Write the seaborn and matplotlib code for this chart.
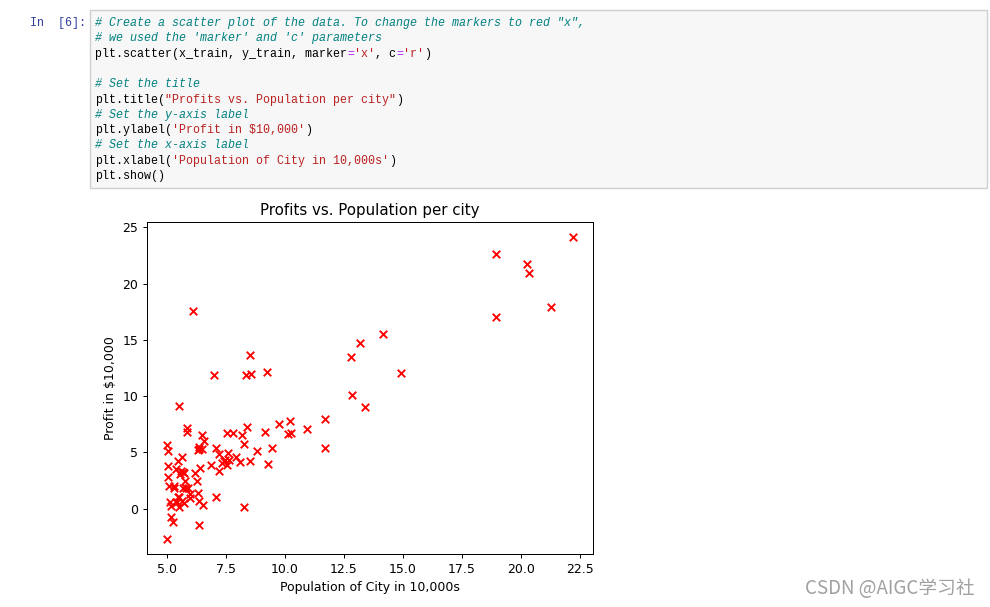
import matplotlib
matplotlib.use("Agg")
import matplotlib.pyplot as plt
from matplotlib.patches import Rectangle
import seaborn as sns
import pandas as pd

population = [6.1101, 5.5277, 8.5186, 7.0032, 5.8598, 8.3829, 7.4764, 8.5781, 6.4862, 5.0546,
              5.7107, 14.164, 5.734, 8.4084, 5.6407, 5.3794, 6.3654, 5.1301, 6.4296, 7.0708,
              6.1891, 20.27, 5.4901, 6.3261, 5.5649, 18.945, 12.828, 10.957, 13.176, 22.203,
              5.2524, 6.5894, 9.2482, 5.8918, 8.2111, 7.9334, 8.0959, 5.6063, 12.836, 6.3534,
              5.4069, 6.8825, 11.708, 5.7737, 7.8247, 7.0931, 5.0702, 5.8014, 11.7, 5.5416,
              7.5402, 5.3077, 7.4239, 7.6031, 6.3328, 6.3589, 6.2742, 5.6397, 9.3102, 9.4536,
              8.8254, 5.1793, 21.279, 14.908, 18.959, 7.2182, 8.2951, 10.236, 5.4994, 20.341,
              10.136, 7.3345, 6.0062, 7.2259, 5.0269, 6.5479, 7.5386, 5.0365, 10.274, 5.1077,
              5.7292, 5.1884, 6.3557, 9.7687, 6.5159, 8.5172, 9.1802, 6.002, 5.5204, 5.0594,
              5.7077, 7.6366, 5.8707, 5.3054, 8.2934, 13.394, 5.4369]
profit = [17.592, 9.1302, 13.662, 11.854, 6.8233, 11.886, 4.3483, 12.0, 6.5987, 3.8166,
          3.2522, 15.505, 3.1551, 7.2258, 0.71618, 3.5129, 5.3048, 0.56077, 3.6518, 5.3893,
          3.1386, 21.767, 4.263, 5.1875, 3.0825, 22.638, 13.501, 7.0467, 14.692, 24.147,
          -1.22, 5.9966, 12.134, 1.8495, 6.5426, 4.5623, 4.1164, 3.3928, 10.117, 5.4974,
          0.55657, 3.9115, 5.3854, 2.4406, 6.7318, 1.0463, 5.1337, 1.844, 8.0043, 1.0179,
          6.7504, 1.8396, 4.2885, 4.9981, 1.4233, -1.4211, 2.4756, 4.6042, 3.9624, 5.4141,
          5.1694, -0.74279, 17.929, 12.054, 17.054, 4.8852, 5.7442, 7.7754, 1.0173, 20.992,
          6.6799, 4.0259, 1.2784, 3.3411, -2.6807, 0.29678, 3.8845, 5.7014, 6.7526, 2.0576,
          0.47953, 0.20421, 0.67861, 7.5435, 5.3436, 4.2415, 6.7981, 0.92695, 0.152, 2.8214,
          1.8451, 4.2959, 7.2029, 1.9869, 0.14454, 9.0551, 0.61705]

title_text = "Profits vs. Population per city"
ylabel_text = "Profit in $10,000"
xlabel_text = "Population of City in 10,000s"
x_ticks = [5.0, 7.5, 10.0, 12.5, 15.0, 17.5, 20.0, 22.5]
y_ticks = [0, 5, 10, 15, 20, 25]

# Notebook code cell content: (text, kind) tokens per line
C, K, S, O = "comment", "code", "string", "op"
code_lines = [
    [("# Create a scatter plot of the data. To change the markers to red \"x\",", C)],
    [("# we used the 'marker' and 'c' parameters", C)],
    [("plt.scatter(x_train, y_train, marker", K), ("=", O), ("'x'", S), (", c", K), ("=", O), ("'r'", S), (")", K)],
    [],
    [("# Set the title", C)],
    [("plt.title(", K), ("\"Profits vs. Population per city\"", S), (")", K)],
    [("# Set the y-axis label", C)],
    [("plt.ylabel(", K), ("'Profit in \\$10,000'", S), (")", K)],
    [("# Set the x-axis label", C)],
    [("plt.xlabel(", K), ("'Population of City in 10,000s'", S), (")", K)],
    [("plt.show()", K)],
]
kind_color = {C: "#008080", K: "#000000", S: "#BA2121", O: "#AA22FF"}

# screenshot shows a 72-dpi inline figure at 125% scaling -> 0.9 factor at 100 dpi
k = 0.9
plt.rcParams.update({
    "font.size": 10 * k,
    "axes.linewidth": 0.8 * k,
    "xtick.major.size": 3.5 * k, "ytick.major.size": 3.5 * k,
    "xtick.major.width": 0.8 * k, "ytick.major.width": 0.8 * k,
    "xtick.major.pad": 3.5 * k, "ytick.major.pad": 3.5 * k,
    "axes.titlepad": 6 * k, "axes.labelpad": 4 * k,
})

W, H = 990, 607
fig = plt.figure(figsize=(W / 100, H / 100), dpi=100)

def fx(px):
    return px / W

def fy(py):
    return 1 - py / H

# code cell box
fig.patches.append(Rectangle((fx(90), fy(188)), (987 - 90) / W, (188 - 10) / H,
                             transform=fig.transFigure, facecolor="#f7f7f7",
                             edgecolor="#cfcfcf", lw=1, zorder=0))
fig.text(fx(30), fy(23), "In  [6]:", color="#303F9F", fontsize=8.4,
         family="Liberation Mono", va="center", ha="left")

char_w = 7.0
for i, toks in enumerate(code_lines):
    y = 23 + i * 15.3
    col = 0
    for text, kind in toks:
        shown_len = len(text.replace("\\$", "$"))
        fig.text(fx(95 + col * char_w), fy(y), text, color=kind_color[kind],
                 fontsize=8.4, family="Liberation Mono",
                 style="italic" if kind == C else "normal", va="center", ha="left")
        col += shown_len

# scatter plot
ax = fig.add_axes([147 / W, 1 - 554 / H, (593 - 147) / W, (554 - 222) / H])
df = pd.DataFrame({"population": population, "profit": profit})
sns.scatterplot(data=df, x="population", y="profit", marker="x", color="red",
                s=36 * k * k, linewidth=1.5 * k, ax=ax)
ax.set_title(title_text, fontsize=12 * k)
ax.set_ylabel(ylabel_text, fontsize=10 * k)
ax.set_xlabel(xlabel_text, fontsize=10 * k)
ax.set_xticks(x_ticks)
ax.set_yticks(y_ticks)

fig.text(fx(975), fy(589), "CSDN @AIGC学习社", color="#a0a0a0", fontsize=13.5,
         family=["Noto Sans CJK SC", "DejaVu Sans"], ha="right", va="center")

fig.savefig("out.png", dpi=100)
